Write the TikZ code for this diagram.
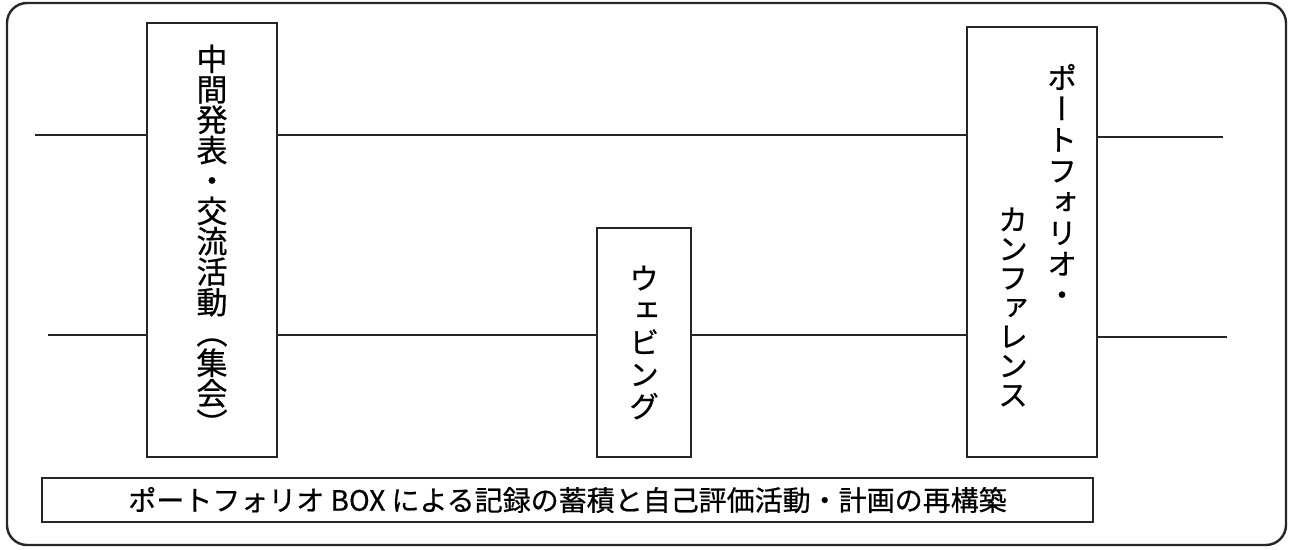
\documentclass[tikz,border=0pt]{standalone}
\usepackage{fontspec}
\newfontfamily\jp[FakeBold=0.6]{Noto Sans CJK JP}
\newfontfamily\tate[RawFeature=+vert,FakeBold=0.6]{Noto Sans CJK JP}
\tikzset{
  x=0.5pt, y=-0.5pt,
  ln/.style={line width=1.2pt, draw=black!85},
  stagebox/.style={ln, rectangle, inner sep=0pt, align=center, fill=white},
  vtext/.style={inner sep=0pt, align=center, font=\tate\fontsize{15.5}{15.2}\selectfont},
}
\begin{document}
\begin{tikzpicture}
\useasboundingbox (0,0) rectangle (1290,550);
\draw[ln, rounded corners=10pt] (7,3) rectangle (1286,545);
% boxes
\node[stagebox, minimum width=65pt, minimum height=217pt, vtext] (b1) at (212,240)
  {中\\間\\発\\表\\・\\交\\流\\活\\動\\（\\集\\会\\）};
\node[stagebox, minimum width=47pt, minimum height=114.5pt, font=\tate\fontsize{15}{16}\selectfont] (b2) at (644,342.5)
  {ウ\\ェ\\ビ\\ン\\グ};
\node[stagebox, minimum width=65pt, minimum height=215pt] (b3) at (1032,242) {};
\node[vtext, font=\tate\fontsize{15}{15.5}\selectfont] (t3a) at (1062,185) {ポ\\ー\\ト\\フ\\ォ\\リ\\オ\\・};
\node[vtext, font=\tate\fontsize{15}{14.6}\selectfont] (t3b) at (1013,307) {カ\\ン\\フ\\ァ\\レ\\ン\\ス};
\node[stagebox, minimum width=525.5pt, minimum height=22pt, font=\jp\fontsize{14}{14}\selectfont] (bb) at (567.5,500)
  {ポートフォリオ BOX による記録の蓄積と自己評価活動・計画の再構築};
% line coordinates
\coordinate (l1s) at (35,135);
\coordinate (l1e) at (1223,137);
\coordinate (l2s) at (48,335);
\coordinate (l2e) at (1227,337);
\draw[ln] (l1s) -- (b1.west |- l1s);
\draw[ln] (b1.east |- l1s) -- (b3.west |- l1s);
\draw[ln] (b3.east |- l1e) -- (l1e);
\draw[ln] (l2s) -- (b1.west |- l2s);
\draw[ln] (b1.east |- l2s) -- (b2.west |- l2s);
\draw[ln] (b2.east |- l2s) -- (b3.west |- l2s);
\draw[ln] (b3.east |- l2e) -- (l2e);
\end{tikzpicture}
\end{document}
